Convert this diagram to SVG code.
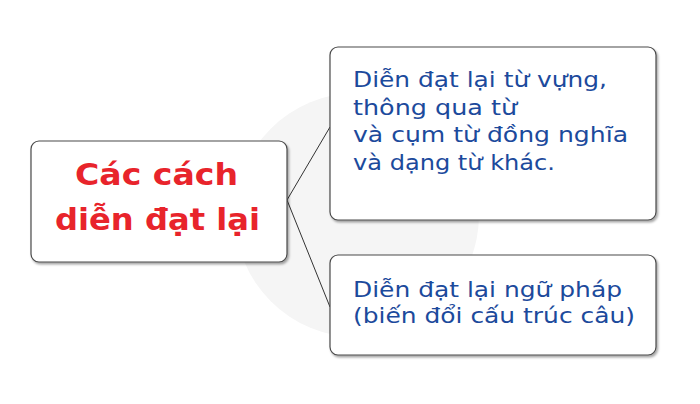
<svg xmlns="http://www.w3.org/2000/svg" width="700" height="404" viewBox="0 0 700 404">
<defs>
<filter id="sh" x="-10%" y="-10%" width="120%" height="130%">
<feDropShadow dx="1.5" dy="2" stdDeviation="1.2" flood-color="#000" flood-opacity="0.35"/>
</filter>
</defs>
<style>
.box{fill:#fff;stroke:#4a4a4a;stroke-width:1.2;filter:url(#sh)}
.main{font-family:"DejaVu Sans","Liberation Sans",sans-serif;font-size:31px;font-weight:600;fill:#e8242b}
.sub{font-family:"DejaVu Sans","Liberation Sans",sans-serif;font-size:21px;fill:#1c4a9c}
.conn{stroke:#333;stroke-width:1;fill:none}
</style>
<rect width="700" height="404" fill="#fff"/>
<circle cx="357" cy="215" r="122" fill="#f5f5f5"/>
<g id="connectors">
<line class="conn" x1="287" y1="200" x2="330" y2="127"/>
<line class="conn" x1="287" y1="200" x2="330" y2="307"/>
</g>
<g id="node-main">
<rect class="box" x="31" y="141" width="256" height="121" rx="8"/>
<text class="main" x="75" y="185" textLength="163" lengthAdjust="spacingAndGlyphs">Các cách</text>
<text class="main" x="55" y="230" textLength="205" lengthAdjust="spacingAndGlyphs">diễn đạt lại</text>
</g>
<g id="node-vocab">
<rect class="box" x="330" y="47" width="326" height="173" rx="8"/>
<text class="sub" x="353" y="87" textLength="254" lengthAdjust="spacingAndGlyphs">Diễn đạt lại từ vựng,</text>
<text class="sub" x="353" y="115" textLength="164" lengthAdjust="spacingAndGlyphs">thông qua từ</text>
<text class="sub" x="353" y="142" textLength="275" lengthAdjust="spacingAndGlyphs">và cụm từ đồng nghĩa</text>
<text class="sub" x="353" y="170" textLength="202" lengthAdjust="spacingAndGlyphs">và dạng từ khác.</text>
</g>
<g id="node-grammar">
<rect class="box" x="330" y="255" width="326" height="100" rx="8"/>
<text class="sub" x="353" y="297" textLength="269" lengthAdjust="spacingAndGlyphs">Diễn đạt lại ngữ pháp</text>
<text class="sub" x="353" y="323" textLength="282" lengthAdjust="spacingAndGlyphs">(biến đổi cấu trúc câu)</text>
</g>
</svg>
